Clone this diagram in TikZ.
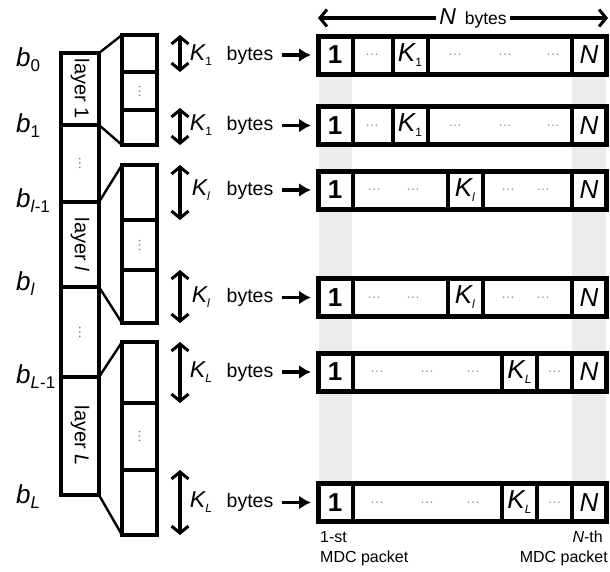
\documentclass[tikz,border=0pt]{standalone}
\usepackage{fontspec}
\setmainfont{Liberation Sans}
\usepackage{graphicx}
\usetikzlibrary{arrows.meta}
\newcommand\fsz[1]{\fontsize{#1}{#1}\selectfont}
% italic symbol with a lowered index
\newcommand\lbl[3][12]{{\itshape #2}\raisebox{-5pt}{\fsz{#1}#3}}
\begin{document}
\begin{tikzpicture}[x=1pt,y=-1pt,
  box/.style={draw, line width=4pt, fill=white, inner sep=0pt, outer sep=0pt},
  link/.style={line width=2.4pt},
  span/.style={{Straight Barb[length=7pt,width=17pt,line width=3pt]}-{Straight Barb[length=7pt,width=17pt,line width=3pt]}, line width=3.2pt},
  feed/.style={-{Latex[length=12pt,width=14pt]}, line width=3.6pt},
  rowbox/.style={draw, line width=5pt, fill=white, minimum width=288pt, minimum height=38pt, inner sep=0pt, outer sep=0pt},
  cell/.style={draw, line width=4pt, minimum width=35pt, minimum height=38pt, inner sep=0pt, outer sep=0pt, font=\fsz{26}},
  dots/.style={text=gray!85, font=\fsz{14}, inner sep=0pt},
  vdots/.style={text=gray!90!black, font=\fsz{14}, inner sep=0pt, rotate=90},
  band/.style={fill=gray!15},
  lay/.style={font=\fsz{20}},
  blab/.style={anchor=base west, font=\fsz{26}, inner sep=0pt},
  klab/.style={font=\fsz{23}, inner sep=0pt},
  bytes/.style={font=\fsz{19.5}, inner sep=3pt},
  small/.style={font=\fsz{16}, inner sep=0pt}
]
\useasboundingbox (0,0) rectangle (610,571);

% shaded columns of the first and the N-th packet
\fill[band] (319,74) rectangle (352,483);
\fill[band] (572,74) rectangle (606,483);

% layer column
\node[box, lay, minimum width=38pt, minimum height=72pt] (la1) at (80,89) {\rotatebox{-90}{layer 1}};
\node[box, minimum width=38pt, minimum height=77pt] (ld1) at (80,163.5) {};
\node[box, lay, minimum width=38pt, minimum height=85pt] (la2) at (80,244.5) {\rotatebox{-90}{layer \textit{l}}};
\node[box, minimum width=38pt, minimum height=90pt] (ld2) at (80,332) {};
\node[box, lay, minimum width=38pt, minimum height=118pt] (la3) at (80,436) {\rotatebox{-90}{layer \textit{L}}};
\node[vdots] (ldd1) at (ld1) {\dots};
\node[vdots] (ldd2) at (ld2) {\dots};

% byte groups of each layer
\node[box, minimum width=35pt, minimum height=37pt] (g1a) at (139.5,53.5) {};
\node[box, minimum width=35pt, minimum height=38pt] (g1b) at (139.5,91) {};
\node[box, minimum width=35pt, minimum height=35pt] (g1c) at (139.5,127.5) {};
\node[box, minimum width=35pt, minimum height=55pt] (g2a) at (139.5,192.5) {};
\node[box, minimum width=35pt, minimum height=50pt] (g2b) at (139.5,245) {};
\node[box, minimum width=35pt, minimum height=53pt] (g2c) at (139.5,296.5) {};
\node[box, minimum width=35pt, minimum height=61pt] (g3a) at (139.5,372.5) {};
\node[box, minimum width=35pt, minimum height=67pt] (g3b) at (139.5,436.5) {};
\node[box, minimum width=35pt, minimum height=65pt] (g3c) at (139.5,502.5) {};
\node[vdots] (gd1) at (g1b) {\dots};
\node[vdots] (gd2) at (g2b) {\dots};
\node[vdots] (gd3) at (g3b) {\dots};

% fan-out from each layer to its group
\draw[link] (la1.north east) -- (g1a.north west);
\draw[link] (la1.south east) -- (g1c.south west);
\draw[link] (la2.north east) -- (g2a.north west);
\draw[link] (la2.south east) -- (g2c.south west);
\draw[link] (la3.north east) -- (g3a.north west);
\draw[link] (la3.south east) -- (g3c.south west);

% extent arrows
\draw[span] ([xshift=23pt]g1a.north east) -- ([xshift=23pt]g1a.south east);
\draw[span] ([xshift=23pt,yshift=2pt]g1c.north east) -- ([xshift=23pt]g1c.south east);
\draw[span] ([xshift=23pt]g2a.north east) -- ([xshift=23pt]g2a.south east);
\draw[span] ([xshift=23pt]g2c.north east) -- ([xshift=23pt]g2c.south east);
\draw[span] ([xshift=23pt]g3a.north east) -- ([xshift=23pt]g3a.south east);
\draw[span] ([xshift=23pt]g3c.north east) -- ([xshift=23pt]g3c.south east);

% boundary labels
\node[blab] (b0) at (16,66) {\lbl[17]{b}{0}};
\node[blab] (b1) at (16,132) {\lbl[17]{b}{1}};
\node[blab] (b2) at (16,207) {\lbl[17]{b}{\textit{l}-1}};
\node[blab] (b3) at (16,290) {\lbl[17]{b}{\textit{l}}};
\node[blab] (b4) at (16,383) {\lbl[17]{b}{\textit{L}-1}};
\node[blab] (b5) at (16,503) {\lbl[17]{b}{\textit{L}}};

% packet rows
\foreach \r/\y in {1/55,2/125.5,3/190,4/297.5,5/372,6/502.5}{
  \node[rowbox] (r\r) at (462,\y) {};
  \node[cell] (r\r a) at (335,\y) {\textbf{1}};
  \node[cell] (r\r n) at (589,\y) {\itshape N};
}
\node[cell] (r1k) at (410,55) {\lbl{K}{1}};
\node[cell] (r2k) at (410,125.5) {\lbl{K}{1}};
\node[cell] (r3k) at (465,190) {\lbl{K}{\textit{l}}};
\node[cell] (r4k) at (465,297.5) {\lbl{K}{\textit{l}}};
\node[cell] (r5k) at (519.5,372) {\lbl{K}{\textit{L}}};
\node[cell] (r6k) at (519.5,502.5) {\lbl{K}{\textit{L}}};

\foreach \r/\y in {1/55,2/125.5}{
  \node[dots] (d\r a) at (372,\y) {\dots};
  \node[dots] (d\r b) at (455,\y) {\dots};
  \node[dots] (d\r c) at (505,\y) {\dots};
  \node[dots] (d\r d) at (553,\y) {\dots};
}
\foreach \r/\y in {3/190,4/297.5}{
  \node[dots] (d\r a) at (374,\y) {\dots};
  \node[dots] (d\r b) at (413,\y) {\dots};
  \node[dots] (d\r c) at (508,\y) {\dots};
  \node[dots] (d\r d) at (543,\y) {\dots};
}
\foreach \r/\y in {5/372,6/502.5}{
  \node[dots] (d\r a) at (377,\y) {\dots};
  \node[dots] (d\r b) at (427,\y) {\dots};
  \node[dots] (d\r c) at (473,\y) {\dots};
  \node[dots] (d\r d) at (554.5,\y) {\dots};
}

% sizes fed into each packet row
\foreach \r/\y/\s in {1/55/1,2/125.5/1,3/190/\textit{l},4/297.5/\textit{l},5/372/\textit{L},6/502.5/\textit{L}}{
  \node[klab] (k\r) at (201,\y) {\lbl[12]{K}{\s}};
  \node[bytes] (w\r) at (250,\y) {bytes};
  \draw[feed] ([xshift=5pt]w\r.east) -- ([xshift=-7pt]r\r.west);
}

% packet length
\coordinate (nl) at (318,18);
\coordinate (nr) at (608,18);
\draw[span] (nl) -- (nr);
\node[fill=white, inner sep=3pt] (nb) at (473,18) {{\fsz{23}\itshape N}\hspace{9pt}{\fsz{17.5}bytes}};

% packet captions
\node[small, anchor=base west] (c1) at (320,542) {1-st};
\node[small, anchor=base west] (c2) at (320,562) {MDC packet};
\node[small, anchor=base east] (c3) at (603,542) {\textit{N}-th};
\node[small, anchor=base east] (c4) at (608,562) {MDC packet};
\end{tikzpicture}
\end{document}
